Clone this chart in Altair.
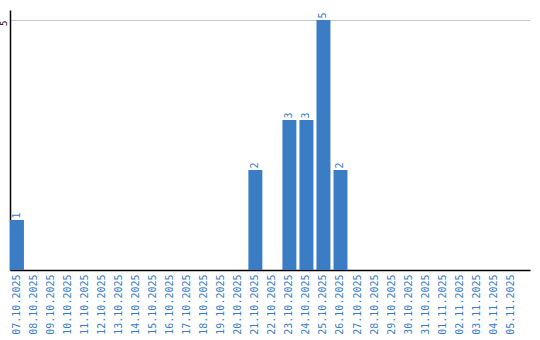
import altair as alt
import pandas as pd

dates = ["07.10.2025", "08.10.2025", "09.10.2025", "10.10.2025", "11.10.2025",
         "12.10.2025", "13.10.2025", "14.10.2025", "15.10.2025", "16.10.2025",
         "17.10.2025", "18.10.2025", "19.10.2025", "20.10.2025", "21.10.2025",
         "22.10.2025", "23.10.2025", "24.10.2025", "25.10.2025", "26.10.2025",
         "27.10.2025", "28.10.2025", "29.10.2025", "30.10.2025", "31.10.2025",
         "01.11.2025", "02.11.2025", "03.11.2025", "04.11.2025", "05.11.2025"]
counts = [1, 0, 0, 0, 0, 0, 0, 0, 0, 0, 0, 0, 0, 0, 2,
          0, 3, 3, 5, 2, 0, 0, 0, 0, 0, 0, 0, 0, 0, 0]

df = pd.DataFrame({"date": dates, "count": counts})
df["label"] = df["count"].apply(lambda v: str(v) if v > 0 else "")

BLUE = "#3a7dc5"

x = alt.X("date:N", sort=dates, title=None,
          scale=alt.Scale(paddingInner=0.18, paddingOuter=0.36, align=0),
          axis=alt.Axis(labelAngle=270, labelColor=BLUE, labelFont="DejaVu Sans Mono",
                        labelFontSize=10, ticks=False, domainColor="black", domainWidth=1.5,
                        labelPadding=4, labelAlign="right", labelBaseline="middle"))
y = alt.Y("count:Q", title=None, scale=alt.Scale(domain=[0, 5.2], nice=False),
          axis=alt.Axis(values=[5], ticks=False, grid=True, gridColor="#c8c8c8",
                        domainColor="black", domainWidth=1.5, labelAngle=270,
                        labelAlign="right", labelBaseline="bottom", labelPadding=2,
                        labelFont="DejaVu Sans Mono", labelFontSize=9, labelColor="black"))

bars = alt.Chart(df).mark_bar(color=BLUE).encode(x=x, y=y)
text = alt.Chart(df).mark_text(angle=270, align="left", baseline="middle", dx=1.5,
                               color=BLUE, font="DejaVu Sans Mono", fontSize=10).encode(
    x=alt.X("date:N", sort=dates), y=alt.Y("count:Q"), text="label:N")

chart = (bars + text).properties(
    width=520, height=260, autosize=alt.AutoSizeParams(type="none"),
    padding={"left": 10, "top": 10, "right": 10, "bottom": 70}
).configure_view(stroke=None).configure_axis(gridWidth=1)

chart.save("out.html", embed_options={"renderer": "svg", "actions": False})
